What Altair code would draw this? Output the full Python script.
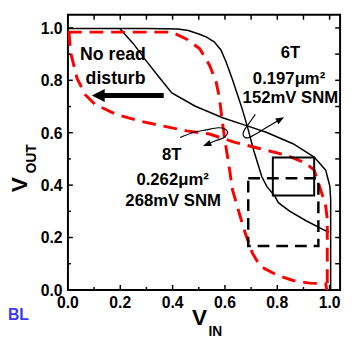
import altair as alt
import pandas as pd

# ---- data ----
# 6T cell butterfly curves (black solid)
t6_vtc_x = [0.0, 0.3, 0.42, 0.46, 0.5, 0.53, 0.56, 0.585, 0.604, 0.629, 0.654, 0.666, 0.685, 0.71, 0.741, 0.76, 0.791, 0.804, 0.847, 0.91, 0.972, 0.997]
t6_vtc_y = [0.998, 0.998, 0.996, 0.99, 0.977, 0.965, 0.946, 0.915, 0.871, 0.802, 0.727, 0.69, 0.626, 0.532, 0.432, 0.395, 0.357, 0.333, 0.301, 0.264, 0.232, 0.22]
t6_mir_x = [0.198, 0.25, 0.297, 0.35, 0.397, 0.485, 0.591, 0.685, 0.76, 0.86, 0.941, 0.985, 1.001, 1.004, 1.004]
t6_mir_y = [0.998, 0.94, 0.877, 0.81, 0.752, 0.702, 0.657, 0.626, 0.601, 0.558, 0.507, 0.457, 0.395, 0.345, 0.0]
# 8T cell butterfly curves (red dashed)
t8_vtc_x = [0.0, 0.397, 0.454, 0.504, 0.541, 0.566, 0.579, 0.591, 0.604, 0.616, 0.629, 0.654, 0.678, 0.705, 0.735, 0.798, 0.86, 0.922, 0.985, 0.989]
t8_vtc_y = [0.984, 0.984, 0.957, 0.92, 0.858, 0.795, 0.733, 0.633, 0.545, 0.47, 0.382, 0.295, 0.215, 0.14, 0.09, 0.057, 0.036, 0.026, 0.024, 0.0]
t8_mir_x = [0.004, 0.01, 0.035, 0.066, 0.104, 0.185, 0.273, 0.36, 0.454, 0.541, 0.635, 0.735, 0.835, 0.91, 0.941, 0.966, 0.985, 0.991, 0.991]
t8_mir_y = [0.984, 0.907, 0.807, 0.745, 0.708, 0.67, 0.645, 0.626, 0.607, 0.595, 0.564, 0.539, 0.514, 0.483, 0.457, 0.382, 0.32, 0.27, 0.0]
# SNM squares [x1, x2, y1, y2]
snm6_box = [0.783, 0.941, 0.36, 0.505]
snm8_box = [0.689, 0.957, 0.168, 0.426]
# pointer lines from labels
p6_x = [0.716, 0.685, 0.675, 0.669, 0.675, 0.691, 0.716, 0.754, 0.812]
p6_y = [0.670, 0.626, 0.611, 0.596, 0.583, 0.581, 0.594, 0.617, 0.651]
p8_x = [0.429, 0.479, 0.529, 0.574, 0.600, 0.610, 0.597, 0.566, 0.531]
p8_y = [0.582, 0.601, 0.611, 0.619, 0.614, 0.600, 0.582, 0.570, 0.555]
# axes
tick_labels = [0.0, 0.2, 0.4, 0.6, 0.8, 1.0]
ticks_major = [0.2, 0.4, 0.6, 0.8, 1.0]
ticks_minor = [0.1, 0.3, 0.5, 0.7, 0.9]
ticks_all = [0.1, 0.2, 0.3, 0.4, 0.5, 0.6, 0.7, 0.8, 0.9, 1.0]
label_6t = ["6T", "0.197\u03bcm\u00b2", "152mV SNM"]
label_8t = ["8T", "0.262\u03bcm\u00b2", "268mV SNM"]
label_nrd = ["No read", "disturb"]

W, H = 277, 280
FONT = "Liberation Sans"
xs = alt.Scale(domain=[0, 1.04], nice=False, zero=False)
ys = alt.Scale(domain=[0, 1.05], nice=False, zero=False)


def curve_df(xv, yv):
    return pd.DataFrame({"x": xv, "y": yv, "i": list(range(len(xv)))})


def curve(xv, yv, **mk):
    return alt.Chart(curve_df(xv, yv)).mark_line(**mk).encode(
        x=alt.X("x:Q", scale=xs, axis=None),
        y=alt.Y("y:Q", scale=ys, axis=None),
        order=alt.Order("i:Q"),
    )


c6a = curve(t6_vtc_x, t6_vtc_y, color="black", strokeWidth=1.5)
c6b = curve(t6_mir_x, t6_mir_y, color="black", strokeWidth=1.5)
c8a = curve(t8_vtc_x, t8_vtc_y, color="#ff0000", strokeWidth=3, strokeDash=[14, 8])
c8b = curve(t8_mir_x, t8_mir_y, color="#ff0000", strokeWidth=3, strokeDash=[14, 8])


def box(b, **mk):
    df = pd.DataFrame({"x1": [b[0]], "x2": [b[1]], "y1": [b[2]], "y2": [b[3]]})
    return alt.Chart(df).mark_rect(filled=False, color="black", **mk).encode(
        x=alt.X("x1:Q", scale=xs, axis=None), x2="x2:Q",
        y=alt.Y("y1:Q", scale=ys, axis=None), y2="y2:Q",
    )


b6 = box(snm6_box, strokeWidth=2)
b8 = box(snm8_box, strokeWidth=2.5, strokeDash=[12, 7])


def xticks(vals, y0, y1):
    return alt.Chart(pd.DataFrame({"v": vals})).mark_rule(color="black", strokeWidth=1.5).encode(
        x=alt.X("v:Q", scale=xs, axis=None), y=alt.value(y0), y2=alt.value(y1))


def yticks(vals, x0, x1):
    return alt.Chart(pd.DataFrame({"v": vals})).mark_rule(color="black", strokeWidth=1.5).encode(
        y=alt.Y("v:Q", scale=ys, axis=None), x=alt.value(x0), x2=alt.value(x1))


tick_layers = [
    xticks(ticks_major, H, H - 5), xticks(ticks_minor, H, H - 3), xticks(ticks_all, 0, 5),
    yticks(ticks_major, 0, 5), yticks(ticks_minor, 0, 3), yticks(ticks_all, W, W - 5),
]

lab_df = pd.DataFrame({"v": tick_labels})
xlabels = alt.Chart(lab_df).mark_text(font=FONT, fontWeight="bold", fontSize=16, align="center",
                                      baseline="alphabetic", color="black").encode(
    x=alt.X("v:Q", scale=xs, axis=None), y=alt.value(H + 18.5),
    text=alt.Text("v:Q", format=".1f"))
ylabels = alt.Chart(lab_df).mark_text(font=FONT, fontWeight="bold", fontSize=16, align="right",
                                      baseline="middle", color="black", dy=1).encode(
    y=alt.Y("v:Q", scale=ys, axis=None), x=alt.value(-5.5),
    text=alt.Text("v:Q", format=".1f"))


def one():
    return pd.DataFrame({"k": [0]})


def dtext(txt, x, y, size=17, **mk):
    return alt.Chart(one()).mark_text(text=txt, font=FONT, fontWeight="bold", fontSize=size,
                                      align="center", baseline="alphabetic", color="black", **mk).encode(
        x=alt.XDatum(x, scale=xs, axis=None), y=alt.YDatum(y, scale=ys, axis=None))


def ptext(txt, x, y, size, **mk):
    opts = dict(font=FONT, fontWeight="bold", fontSize=size, align="center",
                baseline="alphabetic", color="black")
    opts.update(mk)
    return alt.Chart(one()).mark_text(text=txt, **opts).encode(x=alt.value(x), y=alt.value(y))


texts = [
    dtext(label_nrd[0], 0.172, 0.877, 18), dtext(label_nrd[1], 0.182, 0.787, 18),
    dtext(label_6t[0], 0.850, 0.885), dtext(label_6t[1], 0.845, 0.787), dtext(label_6t[2], 0.850, 0.712),
    dtext(label_8t[0], 0.397, 0.495), dtext(label_8t[1], 0.400, 0.401), dtext(label_8t[2], 0.402, 0.319),
    # axis titles
    ptext("V", 134, 316, 23), ptext("IN", 150, 327, 14),
    ptext("V", -42, 173, 23, angle=270), ptext("OUT", -33, 146.5, 14, angle=270),
    ptext("BL", -61, 310.5, 16, align="left", color="#3838f0"),
]

arrow_shaft = alt.Chart(one()).mark_rule(color="black", strokeWidth=5).encode(
    x=alt.XDatum(0.12, scale=xs, axis=None), x2=alt.X2Datum(0.366),
    y=alt.YDatum(0.742, scale=ys, axis=None))
arrow_head = alt.Chart(one()).mark_point(shape="M1,-1L-1,0L1,1Z", filled=True, size=170,
                                         color="black", opacity=1, strokeWidth=0).encode(
    x=alt.XDatum(0.116, scale=xs, axis=None), y=alt.YDatum(0.742, scale=ys, axis=None))

p6 = curve(p6_x, p6_y, color="black", strokeWidth=1.2, interpolate="cardinal")
p8 = curve(p8_x, p8_y, color="black", strokeWidth=1.2, interpolate="cardinal")
ah6 = alt.Chart(one()).mark_point(shape="M-1,-0.8L1,0L-1,0.8Z", filled=True, size=70, angle=331,
                                  color="black", opacity=1, strokeWidth=0).encode(
    x=alt.XDatum(p6_x[-1], scale=xs, axis=None), y=alt.YDatum(p6_y[-1], scale=ys, axis=None))
ah8 = alt.Chart(one()).mark_point(shape="M-1,-0.8L1,0L-1,0.8Z", filled=True, size=70, angle=158,
                                  color="black", opacity=1, strokeWidth=0).encode(
    x=alt.XDatum(p8_x[-1], scale=xs, axis=None), y=alt.YDatum(p8_y[-1], scale=ys, axis=None))

chart = alt.layer(
    c6a, c6b, c8a, c8b, b6, b8, *tick_layers, xlabels, ylabels,
    arrow_shaft, arrow_head, p6, p8, ah6, ah8, *texts
).properties(
    width=W, height=H,
    autosize=alt.AutoSizeParams(type="none"),
    padding={"left": 61, "top": 4, "right": 5, "bottom": 46},
    background="white",
).configure_view(stroke="black", strokeWidth=2)

chart.save("out.html", embed_options={"renderer": "svg", "actions": False})
